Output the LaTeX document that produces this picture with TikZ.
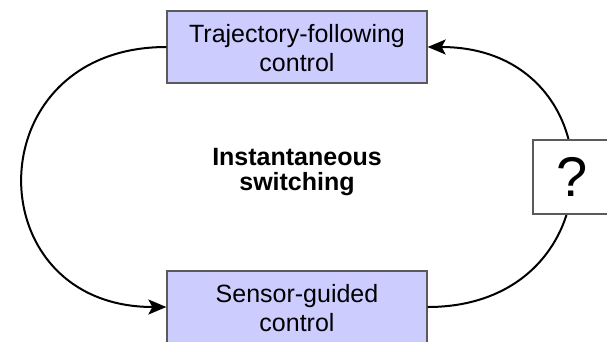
\documentclass[tikz,border=0pt]{standalone}
\usepackage{fontspec}
\setmainfont{Liberation Sans}
\usetikzlibrary{arrows.meta}
\definecolor{boxfill}{RGB}{204,204,255}
\definecolor{boxline}{RGB}{90,90,90}
\tikzset{
  ctrlbox/.style={draw=boxline, line width=1.3pt, fill=boxfill,
    minimum width=260pt, minimum height=72pt, inner sep=0pt,
    align=center, font=\fontsize{25pt}{29pt}\selectfont},
  askbox/.style={draw=boxline, line width=1.3pt, fill=white,
    minimum width=78pt, minimum height=74pt, inner sep=0pt,
    font=\fontsize{56pt}{60pt}\selectfont},
  loop/.style={line width=2pt, draw=black,
    -{Stealth[length=18pt,width=15pt,inset=4pt]}}
}
\begin{document}
\begin{tikzpicture}[x=1pt,y=-1pt]
  \clip (0,0) rectangle (607,341);
  \fill[white] (0,0) rectangle (607,341);

  % the two control modes
  \node[ctrlbox] (traj) at (297,47) {\strut Trajectory-following\\control};
  \node[ctrlbox] (sens) at (297,307) {\strut Sensor-guided\\control};

  % central caption
  \node[align=center, font=\bfseries\fontsize{25pt}{25pt}\selectfont]
    (sw) at (297,172) {Instantaneous\\switching};

  % switching loop
  \draw[loop] (traj.west) .. controls (-25,47) and (-25,307) .. (sens.west);
  \draw[loop] (sens.east) .. controls (619,307) and (619,47) .. (traj.east);

  % unknown transition
  \node[askbox] (ask) at (572,177) {?};
\end{tikzpicture}
\end{document}
